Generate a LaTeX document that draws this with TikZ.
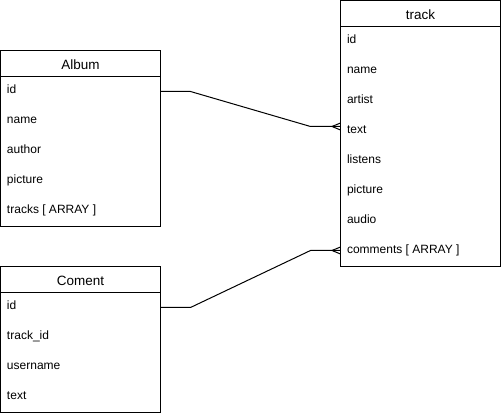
\documentclass[tikz,border=0pt]{standalone}
\usepackage{fontspec}
\setmainfont{Liberation Sans}
\usetikzlibrary{calc}
\begin{document}
\begin{tikzpicture}[x=0.75pt,y=-0.75pt,
  line width=0.75pt,
  entbox/.style={draw=black, line width=0.75pt, inner sep=0pt, outer sep=0pt, anchor=north west},
  hdr/.style={anchor=base, inner sep=0pt, font=\fontsize{10.1pt}{12pt}\selectfont},
  row/.style={anchor=base west, inner sep=0pt, font=\fontsize{9pt}{11pt}\selectfont},
  conn/.style={draw=black, line width=0.75pt}]
\useasboundingbox (0,0) rectangle (501,416);
% Album
\node[entbox, minimum width=120pt, minimum height=132pt] (album) at (0.5,50.5) {};
\draw (album.north west) ++(0,26) coordinate (ahl) -- (album.north east |- ahl);
\node[hdr] (ah) at (80.5,69.3) {Album};
\node[row] (a1) at (6.5,94) {id};
\node[row] (a2) at (6.5,124) {name};
\node[row] (a3) at (6.5,154) {author};
\node[row] (a4) at (6.5,184) {picture};
\node[row] (a5) at (6.5,214) {tracks [ ARRAY ]};
\coordinate (aidc) at (160.5,91.5);
% Coment
\node[entbox, minimum width=120pt, minimum height=109.5pt] (coment) at (0.5,266.5) {};
\draw (coment.north west) ++(0,26) coordinate (chl) -- (coment.north east |- chl);
\node[hdr] (ch) at (80.5,285.3) {Coment};
\node[row] (c1) at (6.5,310) {id};
\node[row] (c2) at (6.5,340) {track\_id};
\node[row] (c3) at (6.5,370) {username};
\node[row] (c4) at (6.5,400) {text};
\coordinate (cidc) at (160.5,307.5);
% track
\node[entbox, minimum width=120pt, minimum height=199.5pt] (track) at (340.5,0.5) {};
\draw (track.north west) ++(0,26) coordinate (thl) -- (track.north east |- thl);
\node[hdr] (th) at (420.5,19.3) {track};
\node[row] (t1) at (346.5,44) {id};
\node[row] (t2) at (346.5,74) {name};
\node[row] (t3) at (346.5,104) {artist};
\node[row] (t4) at (346.5,134) {text};
\node[row] (t5) at (346.5,164) {listens};
\node[row] (t6) at (346.5,194) {picture};
\node[row] (t7) at (346.5,224) {audio};
\node[row] (t8) at (346.5,254) {comments [ ARRAY ]};
\coordinate (ttc) at (340.5,126.5);
\coordinate (tcc) at (340.5,250.5);
% connectors
\draw[conn] (album.east |- aidc) -- ++(30,0) -- ($(track.west |- ttc)+(-30,0)$) -- (track.west |- ttc);
\draw[conn] ($(track.west |- ttc)+(0,-3.5)$) -- ($(track.west |- ttc)+(-8.5,0)$) -- ($(track.west |- ttc)+(0,3.5)$);
\draw[conn] (coment.east |- cidc) -- ++(30,0) -- ($(track.west |- tcc)+(-30,0)$) -- (track.west |- tcc);
\draw[conn] ($(track.west |- tcc)+(0,-3.5)$) -- ($(track.west |- tcc)+(-8.5,0)$) -- ($(track.west |- tcc)+(0,3.5)$);
\end{tikzpicture}
\end{document}
